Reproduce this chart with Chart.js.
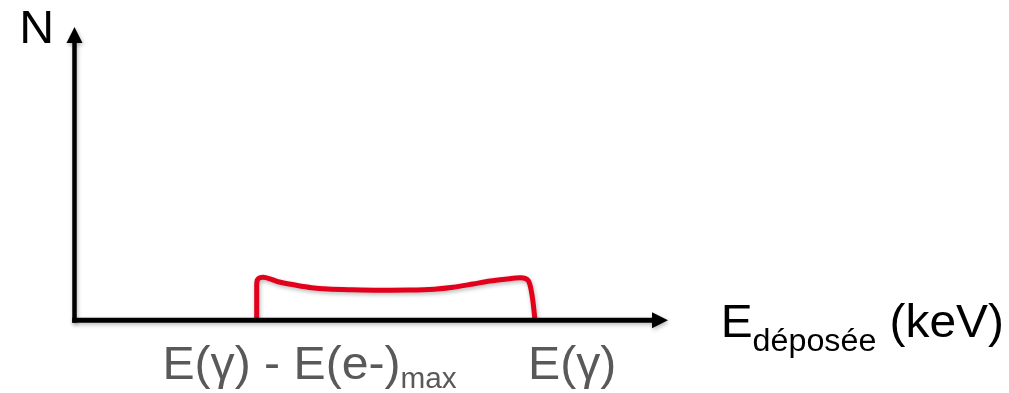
<!DOCTYPE html>
<html lang="fr">
<head>
    <meta charset="UTF-8">
    <title>Spectre Compton</title>
    <script src="https://cdn.jsdelivr.net/npm/chart.js@4.4.1/dist/chart.umd.min.js"></script>
    <style>
        html, body { margin: 0; padding: 0; background: #fff; }
        #wrap { width: 1009px; height: 393px; position: relative; }
    </style>
</head>
<body>
<div id="wrap">
    <canvas id="spectre"></canvas>
</div>

<script>
    // énergie déposée (unités arbitraires) et nombre de coups N
    const energie = [30.70, 30.70, 30.73, 31.00, 31.76, 32.94, 34.29, 37.15, 39.97, 42.71, 46.76, 51.48,
                     56.53, 60.60, 63.80, 67.14, 70.01, 72.82, 75.06, 75.91, 76.50, 76.87, 77.25, 77.59];
    const coups   = [0, 10.33, 13.06, 14.25, 14.66, 14.15, 13.16, 12.04, 11.11, 10.67, 10.43, 10.26,
                     10.30, 10.60, 11.25, 12.38, 13.40, 14.08, 14.52, 14.32, 13.40, 11.01, 6.34, 0];

    // étiquettes sous l'axe des x
    const tickPos  = [14.81, 76.41];
    const tickText = ['E(γ) - E(e-)', 'E(γ)'];
    const tickSub  = ['max', ''];

    const FONT = "'Liberation Sans', Arial, sans-serif";

    // texte avec indice (étiré horizontalement comme l'original)
    function texteIndice(ctx, x, y, main, sub, suite, tMain, tSub, dySub, etire) {
        ctx.save();
        ctx.translate(x, y);
        ctx.scale(etire, 1);
        let cx = 0;
        ctx.font = tMain + 'px ' + FONT;
        ctx.fillText(main, cx, 0);
        cx += ctx.measureText(main).width;
        if (sub) {
            ctx.font = tSub + 'px ' + FONT;
            ctx.fillText(sub, cx, dySub);
            cx += ctx.measureText(sub).width;
        }
        if (suite) {
            ctx.font = tMain + 'px ' + FONT;
            ctx.fillText(suite, cx, 0);
        }
        ctx.restore();
    }

    const ombreCourbe = {
        id: 'ombreCourbe',
        beforeDatasetDraw(chart) {
            const ctx = chart.ctx;
            ctx.save();
            ctx.shadowColor = 'rgba(0,0,0,0.28)';
            ctx.shadowBlur = 4;
            ctx.shadowOffsetX = 1;
            ctx.shadowOffsetY = 2;
        },
        afterDatasetDraw(chart) {
            chart.ctx.restore();
        }
    };

    const axes = {
        id: 'axes',
        afterDatasetsDraw(chart) {
            const ctx = chart.ctx;
            const x = chart.scales.x, y = chart.scales.y;
            const x0 = x.getPixelForValue(0), xFin = x.getPixelForValue(100);
            const y0 = y.getPixelForValue(0), yFin = y.getPixelForValue(100);
            ctx.save();
            ctx.shadowColor = 'rgba(0,0,0,0.28)';
            ctx.shadowBlur = 4;
            ctx.shadowOffsetX = 1;
            ctx.shadowOffsetY = 2;
            ctx.fillStyle = '#000';
            ctx.strokeStyle = '#000';
            ctx.lineCap = 'butt';
            // axe y
            ctx.lineWidth = 4.5;
            ctx.beginPath();
            ctx.moveTo(x0, y0 + 2.5);
            ctx.lineTo(x0, yFin + 14);
            ctx.stroke();
            ctx.beginPath();
            ctx.moveTo(x0, yFin);
            ctx.lineTo(x0 - 8, yFin + 16);
            ctx.lineTo(x0 + 8, yFin + 16);
            ctx.closePath();
            ctx.fill();
            // axe x
            ctx.lineWidth = 5;
            ctx.beginPath();
            ctx.moveTo(x0 - 2.25, y0);
            ctx.lineTo(xFin - 14, y0);
            ctx.stroke();
            ctx.beginPath();
            ctx.moveTo(xFin, y0);
            ctx.lineTo(xFin - 16, y0 - 8);
            ctx.lineTo(xFin - 16, y0 + 8);
            ctx.closePath();
            ctx.fill();
            ctx.restore();
        },
        afterDraw(chart) {
            const ctx = chart.ctx;
            const x = chart.scales.x, y = chart.scales.y;
            const y0 = y.getPixelForValue(0);
            ctx.save();
            ctx.textBaseline = 'alphabetic';
            ctx.textAlign = 'left';
            // titres des axes
            ctx.fillStyle = '#000';
            texteIndice(ctx, 19.2, 43, 'N', '', '', 46, 31, 0, 1.05);
            texteIndice(ctx, 720.7, 337, 'E', 'déposée', ' (keV)', 46, 31, 14, 1.04);
            // étiquettes
            ctx.fillStyle = '#595959';
            tickPos.forEach((v, i) => {
                texteIndice(ctx, x.getPixelForValue(v), y0 + 58.7, tickText[i], tickSub[i], '', 47, 29, 9, 1.025);
            });
            ctx.restore();
        }
    };

    new Chart(document.getElementById('spectre'), {
        type: 'line',
        data: {
            datasets: [{
                data: energie.map((e, i) => ({ x: e, y: coups[i] })),
                borderColor: '#e3001b',
                borderWidth: 5,
                borderJoinStyle: 'round',
                borderCapStyle: 'round',
                pointRadius: 0,
                tension: 0.3,
                fill: false
            }]
        },
        options: {
            responsive: true,
            maintainAspectRatio: false,
            animation: false,
            layout: { padding: { left: 74.5, right: 341, top: 27, bottom: 72.7 } },
            plugins: { legend: { display: false }, tooltip: { enabled: false } },
            scales: {
                x: { type: 'linear', display: false, min: 0, max: 100 },
                y: { type: 'linear', display: false, min: 0, max: 100 }
            }
        },
        plugins: [ombreCourbe, axes]
    });
</script>
</body>
</html>
